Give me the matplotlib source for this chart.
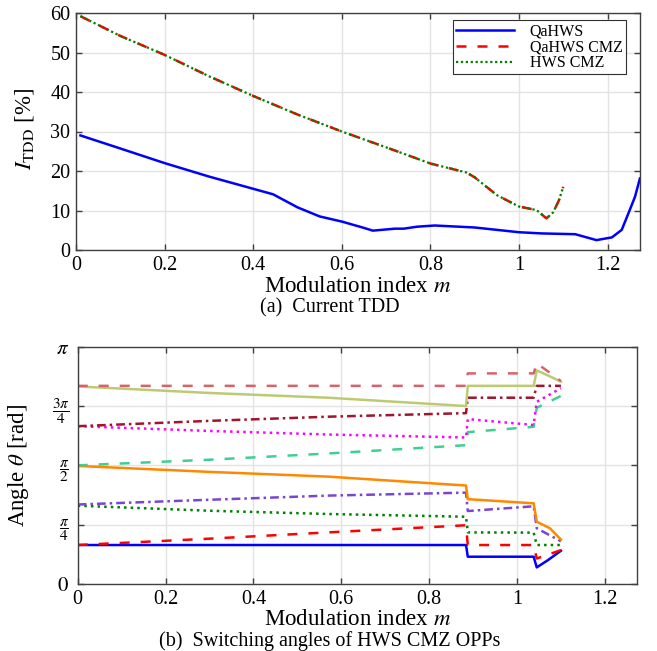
import numpy as np
import matplotlib
matplotlib.use("Agg")
import matplotlib.pyplot as plt

plt.rcParams['font.family'] = 'serif'
plt.rcParams['font.serif'] = ['Liberation Serif', 'DejaVu Serif']
plt.rcParams['mathtext.fontset'] = 'stix'

# ---------------- data: (a) current TDD ----------------
m_qahws = [0.01, 0.1, 0.2, 0.3, 0.445, 0.5, 0.55, 0.6, 0.65, 0.67, 0.72, 0.74,
           0.77, 0.81, 0.9, 1.0, 1.05, 1.127, 1.175, 1.21, 1.232, 1.25, 1.262, 1.273]
tdd_qahws = [29.0, 25.7, 22.0, 18.6, 14.1, 10.8, 8.5, 7.2, 5.6, 4.9, 5.4, 5.4,
             5.9, 6.2, 5.7, 4.5, 4.2, 4.0, 2.5, 3.2, 5.1, 10.1, 13.5, 18.1]
m_cmz = [0.01, 0.1, 0.2, 0.3, 0.4, 0.5, 0.6, 0.7, 0.8, 0.882, 0.9, 0.95,
         1.0, 1.04, 1.062, 1.077, 1.09, 1.1]
tdd_qahws_cmz = [59.2, 54.2, 49.4, 44.0, 39.0, 34.3, 30.0, 26.0, 21.9, 19.6, 18.4, 13.9,
                 11.0, 10.1, 8.0, 9.5, 12.5, 16.0]
tdd_hws_cmz = [59.2, 54.2, 49.4, 44.0, 39.0, 34.3, 30.0, 26.0, 21.9, 19.6, 18.4, 13.9,
               11.0, 10.1, 8.0, 9.5, 12.5, 16.0]
legend_labels = ['QaHWS', 'QaHWS CMZ', 'HWS CMZ']

# ---------------- data: (b) switching angles (in units of pi/4) ----------------
m_ang = [0, 0.3, 0.57, 0.884, 0.888, 1.038, 1.045, 1.1]
m_ang_curve = [0, 0.3, 0.57, 0.884, 0.888, 1.038, 1.045, 1.075, 1.1]
m_blue = [0, 0.884, 0.888, 1.038, 1.045, 1.07, 1.1]
ang1 = [0.657, 0.657, 0.46, 0.46, 0.28, 0.40, 0.56]
ang2 = [0.657, 0.764, 0.87, 0.99, 0.657, 0.657, 0.43, 0.57]
ang3 = [1.32, 1.235, 1.18, 1.134, 0.87, 0.866, 0.657, 0.657]
ang4 = [1.34, 1.42, 1.49, 1.54, 1.23, 1.31, 0.94, 0.72]
ang5 = [1.99, 1.89, 1.81, 1.66, 1.43, 1.36, 1.05, 0.94, 0.75]
ang6 = [2.0, 2.095, 2.20, 2.34, 2.56, 2.65, 2.97, 3.17]
ang7 = [2.66, 2.58, 2.52, 2.47, 2.78, 2.68, 3.07, 3.30]
ang8 = [2.66, 2.75, 2.82, 2.88, 3.14, 3.14, 3.34, 3.34]
ang9 = [3.33, 3.22, 3.14, 3.0, 3.34, 3.34, 3.60, 3.50, 3.41]
ang10 = [3.34, 3.34, 3.34, 3.34, 3.55, 3.55, 3.72, 3.56, 3.42]
angle_tick_labels = [r'$0$', r'$\dfrac{\pi}{4}$', r'$\dfrac{\pi}{2}$',
                     r'$\dfrac{3\pi}{4}$', r'$\pi$']

DASH = (0, (4, 4.4))
DASHDOT = (0, (3.5, 1.6, 1.0, 1.6))
DOT = (0, (1, 1.65))
angle_series = [
    (m_blue, ang1, '#0000ff', '-'),
    (m_ang, ang2, '#ff0000', DASH),
    (m_ang, ang3, '#008000', DOT),
    (m_ang, ang4, '#7b45d3', DASHDOT),
    (m_ang_curve, ang5, '#ff8800', '-'),
    (m_ang, ang6, '#3fcf93', DASH),
    (m_ang, ang7, '#ff00ff', DOT),
    (m_ang, ang8, '#a0142c', DASHDOT),
    (m_ang_curve, ang9, '#bccb72', '-'),
    (m_ang_curve, ang10, '#d5646a', DASH),
]

xticks = [0, 0.2, 0.4, 0.6, 0.8, 1.0, 1.2]
xticklabels = ['0', '0.2', '0.4', '0.6', '0.8', '1', '1.2']

fig = plt.figure(figsize=(6.57, 6.51), dpi=100)
ax1 = fig.add_axes([76/657, 1-250/651, (640-76)/657, (250-13)/651])
ax2 = fig.add_axes([77.7/657, 1-584/651, (637-77.7)/657, (584-346.7)/651])

spine_col = '#404040'
for ax in (ax1, ax2):
    ax.set_xlim(0, 4/np.pi)
    ax.set_xticks(xticks)
    ax.set_xticklabels(xticklabels)
    ax.grid(True, color='#e3e3e3', linewidth=1.0)
    ax.set_axisbelow(True)
    ax.tick_params(direction='in', top=True, right=True, labelsize=14.5,
                   length=4, width=1, color=spine_col, pad=4)
    for s in ax.spines.values():
        s.set_color(spine_col)
        s.set_linewidth(1.0)
    ax.set_xlabel(r'Modulation index $m$', fontsize=16.5)
    ax.xaxis.label.set_va('baseline')

ax1.xaxis.set_label_coords(0.5, -0.177)
ax2.xaxis.set_label_coords(0.5, -0.173)

# (a)
ax1.plot(m_qahws, tdd_qahws, color='#0000ff', lw=1.8, label=legend_labels[0])
ax1.plot(m_cmz, tdd_qahws_cmz, color='#ff0000', lw=1.8, ls=DASH, label=legend_labels[1])
ax1.plot(m_cmz, tdd_hws_cmz, color='#008000', lw=1.6, ls=(0, (1, 1.2)), label=legend_labels[2])
ax1.set_ylim(0, 60)
ax1.set_yticks([0, 10, 20, 30, 40, 50, 60])
ax1.set_ylabel(r'$I_{\mathrm{TDD}}$ [%]', fontsize=16.5)
ax1.yaxis.label.set_va('center')
ax1.yaxis.set_label_coords(-0.092, 0.51)
leg = ax1.legend(loc='upper right', bbox_to_anchor=(0.975, 0.97), borderaxespad=0,
                 fontsize=11.5, handlelength=3.6, handletextpad=1.0, labelspacing=0.0,
                 fancybox=False, framealpha=1, edgecolor='#303030', borderpad=0.2)
leg.get_frame().set_linewidth(0.8)

# (b)
for xs, us, col, ls in angle_series:
    ax2.plot(xs, np.array(us) * np.pi / 4, color=col, ls=ls, lw=1.8)
ax2.set_ylim(0, np.pi)
ax2.set_yticks([0, np.pi/4, np.pi/2, 3*np.pi/4, np.pi])
ax2.set_yticklabels(angle_tick_labels)
for i, lab in enumerate(ax2.get_yticklabels()):
    lab.set_fontsize(15 if i in (0, 4) else 11)
ax2.tick_params(axis='y', pad=6)
ax2.set_ylabel(r'Angle $\theta$ [rad]', fontsize=16.5)
ax2.yaxis.label.set_va('center')
ax2.yaxis.set_label_coords(-0.105, 0.5)

fig.text(330/657, 1-312/651, '(a)  Current TDD', ha='center', va='baseline', fontsize=14.5)
fig.text(330/657, 1-646/651, '(b)  Switching angles of HWS CMZ OPPs', ha='center', va='baseline', fontsize=14.5)

fig.savefig('out.png', dpi=100)
